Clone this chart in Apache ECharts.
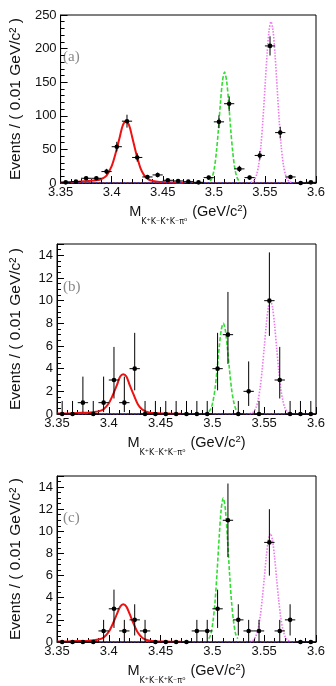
<!DOCTYPE html>
<html>
<head>
<meta charset="utf-8">
<script src="https://cdn.jsdelivr.net/npm/echarts@6/dist/echarts.min.js"></script>
<style>
  html, body { margin: 0; padding: 0; background: #fff; }
  #chart { width: 336px; height: 686px; }
</style>
</head>
<body>
<div id="chart"></div>
<script>
// bin centres (0.01 GeV/c^2 bins)
const binX = [3.355, 3.365, 3.375, 3.385, 3.395, 3.405, 3.415, 3.425, 3.435, 3.445,
              3.455, 3.465, 3.475, 3.485, 3.495, 3.505, 3.515, 3.525, 3.535, 3.545,
              3.555, 3.565, 3.575, 3.585, 3.595];

// panel (a) data
const countsA = [1, 2, 7, 7, 17, 54, 92, 38, 9, 12, 4, 3, 2, 1, 8, 91, 118, 21, 8, 41, 204, 75, 9, 0, 1];
const errA = [1, 1.4, 2.6, 2.6, 4.1, 7.3, 9.6, 6.2, 3, 3.5, 2, 1.7, 1.4, 1, 2.8, 9.5, 10.9, 4.6, 2.8, 6.4, 14.3, 8.7, 3, 0, 1];

// panel (b) data (asymmetric errors)
const countsB = [0, 0, 1, 0, 1, 3, 1, 4, 0, 0, 0, 0, 0, 0, 0, 4, 7, 0, 2, 0, 10, 3, 0, 0, 0];
const errLoB = [0, 0, 0.83, 0, 0.83, 1.63, 0.83, 1.91, 0, 0, 0, 0, 0, 0, 0, 1.91, 2.58, 0, 1.29, 0, 3.11, 1.63, 0, 0, 0];
const errHiB = [1.15, 1.15, 2.3, 1.15, 2.3, 2.92, 2.3, 3.16, 1.15, 1.15, 1.15, 1.15, 1.15, 1.15, 1.15, 3.16, 3.77, 1.15, 2.64, 1.15, 4.26, 2.92, 1.15, 1.15, 1.15];

// panel (c) data
const countsC = [0, 0, 0, 0, 1, 3, 1, 2, 1, 0, 0, 0, 0, 1, 1, 3, 11, 2, 1, 1, 9, 1, 2, 0, 0];
const errC = [0, 0, 0, 0, 1, 1.73, 1, 1.41, 1, 0, 0, 0, 0, 1, 1, 1.73, 3.32, 1.41, 1, 1, 3, 1, 1.41, 0, 0];

// fitted curves
const redX = [3.35, 3.36, 3.37, 3.38, 3.385, 3.39, 3.395, 3.40, 3.404, 3.408, 3.411, 3.414,
              3.417, 3.420, 3.424, 3.428, 3.432, 3.436, 3.44, 3.445, 3.45, 3.46, 3.47];
const redA = [0.9, 1.4, 2.3, 3.2, 4.1, 6, 11, 25, 45, 69, 86, 92, 86, 69, 44, 23, 11, 5.5, 3.2, 2, 1.4, 0.7, 0.4];
const redB = [0.035, 0.05, 0.09, 0.12, 0.16, 0.23, 0.42, 0.95, 1.7, 2.6, 3.3, 3.5, 3.3, 2.6, 1.7, 0.87, 0.42, 0.21, 0.12, 0.08, 0.05, 0.03, 0.015];
const redC = [0.034, 0.05, 0.085, 0.12, 0.15, 0.22, 0.41, 0.92, 1.67, 2.57, 3.2, 3.4, 3.2, 2.57, 1.63, 0.85, 0.41, 0.2, 0.12, 0.075, 0.05, 0.027, 0.014];

const greenX = [3.4965, 3.4985, 3.5005, 3.5025, 3.5045, 3.5065, 3.5085, 3.5105,
                3.5125, 3.5145, 3.5165, 3.5185, 3.5205, 3.5225, 3.5245];
const greenA = [3, 9, 22, 46, 80, 120, 152, 165, 152, 120, 80, 46, 22, 9, 3];
const greenB = [0.2, 0.45, 1.1, 2.2, 3.9, 5.8, 7.4, 8, 7.4, 5.8, 3.9, 2.2, 1.1, 0.45, 0.2];
const greenC = [0.3, 0.7, 1.8, 3.6, 6.3, 9.4, 12, 13, 12, 9.4, 6.3, 3.6, 1.8, 0.7, 0.3];

const pinkX = [3.536, 3.538, 3.540, 3.542, 3.544, 3.546, 3.548, 3.550, 3.552, 3.554, 3.556,
               3.558, 3.560, 3.562, 3.564, 3.566, 3.568, 3.570, 3.572, 3.574, 3.576];
const pinkA = [0.7, 2, 5.3, 13, 28, 54, 93, 141, 189, 226, 240, 226, 189, 141, 93, 54, 28, 13, 5.3, 2, 0.7];
const pinkB = [0.03, 0.08, 0.22, 0.54, 1.18, 2.26, 3.86, 5.86, 7.88, 9.42, 10, 9.42, 7.88, 5.86, 3.86, 2.26, 1.18, 0.54, 0.22, 0.08, 0.03];
const pinkC = [0.03, 0.08, 0.22, 0.53, 1.16, 2.2, 3.8, 5.7, 7.7, 9.2, 9.8, 9.2, 7.7, 5.7, 3.8, 2.2, 1.16, 0.53, 0.22, 0.08, 0.03];

const bgX = [3.35, 3.6];
const bgY = [0, 0];

const xTicks = { min: 3.35, max: 3.6, interval: 0.05 };
const panelLabels = ['(a)', '(b)', '(c)'];

const grids = [
    { left: 54.5, right: 20, top: 15, height: 168 },
    { left: 54.5, right: 20, top: 244, height: 170 },
    { left: 54.5, right: 20, top: 476, height: 169 }
];

const pairs = (xs, ys) => xs.map((x, i) => [x, ys[i]]);

function errItem(params, api) {
    const x = api.value(0), y = api.value(1), lo = api.value(2), hi = api.value(3);
    const c = api.coord([x, y]);
    const children = [];
    if (hi > 0 || lo > 0) {
        const p1 = api.coord([x, y - lo]);
        const p2 = api.coord([x, y + hi]);
        children.push({ type: 'line', shape: { x1: c[0], y1: p1[1], x2: c[0], y2: p2[1] },
            style: { stroke: '#000', lineWidth: 1 } });
    }
    const l = api.coord([x - 0.005, y]);
    const r = api.coord([x + 0.005, y]);
    children.push({ type: 'line', shape: { x1: l[0], y1: c[1], x2: r[0], y2: c[1] },
        style: { stroke: '#000', lineWidth: 1 } });
    children.push({ type: 'circle', shape: { cx: c[0], cy: c[1], r: 2.3 }, style: { fill: '#000' } });
    return { type: 'group', children: children };
}

function xAxisFor(i) {
    return {
        type: 'value', gridIndex: i, min: xTicks.min, max: xTicks.max, interval: xTicks.interval,
        name: '{m|M}{s|K\u207AK\u207BK\u207AK\u207B\u03C0\u2070}{m| (GeV/c}{p|2}{m|)}',
        nameLocation: 'middle', nameGap: 19,
        nameTextStyle: {
            rich: {
                m: { fontSize: 14.5, color: '#111', fontFamily: 'Liberation Sans', lineHeight: 20, verticalAlign: 'middle' },
                s: { fontSize: 8, color: '#111', fontFamily: 'DejaVu Sans', lineHeight: 20, verticalAlign: 'bottom', padding: [0, 1, -4, 0] },
                p: { fontSize: 9.5, color: '#111', fontFamily: 'Liberation Sans', lineHeight: 20, verticalAlign: 'top', padding: [1, 0, 0, 0] }
            }
        },
        axisLine: { onZero: false, lineStyle: { color: '#000', width: 1 } },
        axisTick: { inside: true, length: 7, lineStyle: { color: '#000' } },
        minorTick: { show: true, splitNumber: 5, length: 4, lineStyle: { color: '#000' } },
        splitLine: { show: false },
        axisLabel: { fontSize: 13, color: '#111', fontFamily: 'Liberation Sans', margin: 3,
            formatter: v => String(+v.toFixed(2)) }
    };
}

function yAxisFor(i, max, interval, minor) {
    return {
        type: 'value', gridIndex: i, min: 0, max: max, interval: interval,
        name: 'Events / ( 0.01 GeV/c\u00B2 )', nameLocation: 'middle', nameGap: 33,
        nameTextStyle: { fontSize: 15.5, color: '#111', fontFamily: 'Liberation Sans' },
        axisLine: { show: true, lineStyle: { color: '#000', width: 1 } },
        axisTick: { inside: true, length: 7, lineStyle: { color: '#000' } },
        minorTick: { show: true, splitNumber: minor, length: 4, lineStyle: { color: '#000' } },
        splitLine: { show: false },
        axisLabel: { fontSize: 13, color: '#111', fontFamily: 'Liberation Sans', margin: 4, showMaxLabel: interval === 50 }
    };
}

function panelSeries(i, counts, lo, hi, red, green, pink) {
    const ax = { xAxisIndex: i, yAxisIndex: i };
    return [
        Object.assign({ type: 'line', data: pairs(bgX, bgY), showSymbol: false, silent: true,
            lineStyle: { color: '#8b1a1a', width: 1 }, z: 1 }, ax),
        Object.assign({ type: 'line', data: pairs(redX, red), showSymbol: false, smooth: 0.3,
            lineStyle: { color: '#ee1111', width: 2 }, z: 3 }, ax),
        Object.assign({ type: 'line', data: pairs(greenX, green), showSymbol: false, smooth: 0.3,
            lineStyle: { color: '#33dd33', width: 1.6, type: [4, 2] }, z: 3 }, ax),
        Object.assign({ type: 'line', data: pairs(pinkX, pink), showSymbol: false, smooth: 0.3,
            lineStyle: { color: '#ee77ee', width: 1.6, type: [1.5, 1.5] }, z: 3 }, ax),
        Object.assign({ type: 'line', data: pairs(bgX, bgY), showSymbol: false, silent: true,
            lineStyle: { color: '#2233cc', width: 1.3, type: [1.5, 2] }, z: 4 }, ax),
        Object.assign({ type: 'custom', renderItem: errItem, z: 5,
            data: binX.map((x, k) => [x, counts[k], lo[k], hi[k]]) }, ax)
    ];
}

const chart = echarts.init(document.getElementById('chart'));
const option = {
    animation: false,
    backgroundColor: '#fff',
    grid: grids.map(g => Object.assign({ show: true, borderColor: '#000', borderWidth: 1, backgroundColor: 'transparent' }, g)),
    xAxis: [xAxisFor(0), xAxisFor(1), xAxisFor(2)],
    yAxis: [yAxisFor(0, 250, 50, 5), yAxisFor(1, 15, 2, 4), yAxisFor(2, 15, 2, 4)],
    graphic: panelLabels.map((t, i) => ({
        type: 'text', left: 63, top: [50, 280, 511][i],
        style: { text: t, font: '15px "Liberation Serif", "DejaVu Serif", serif', fill: '#888' }
    })),
    series: [].concat(
        panelSeries(0, countsA, errA, errA, redA, greenA, pinkA),
        panelSeries(1, countsB, errLoB, errHiB, redB, greenB, pinkB),
        panelSeries(2, countsC, errC, errC, redC, greenC, pinkC)
    )
};
chart.setOption(option);
</script>
</body>
</html>
